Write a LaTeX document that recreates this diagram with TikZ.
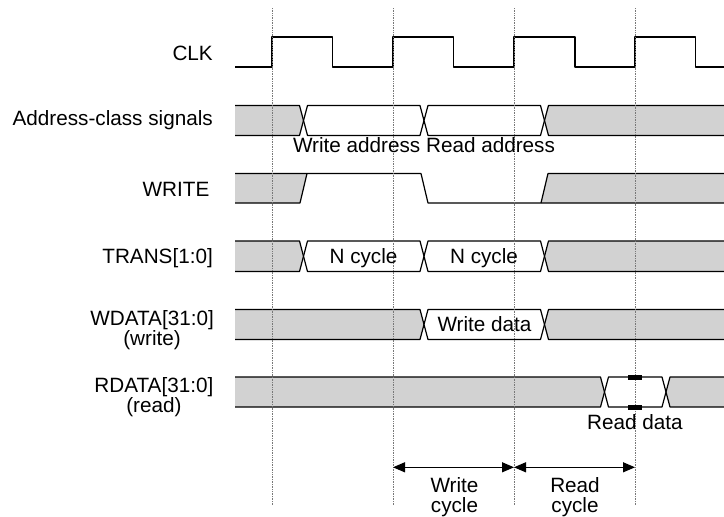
\documentclass[tikz,border=0pt]{standalone}
\usepackage{fontspec}
\setmainfont{Liberation Sans}
\usetikzlibrary{arrows.meta}
\definecolor{busgray}{RGB}{210,210,210}
\definecolor{gridgray}{RGB}{120,120,120}
\newcommand{\midseg}[5]{%
  \filldraw[wave,fill=#5] ({#1+4},#3) -- ({#2-4},#3) -- (#2,{(#3+#4)/2}) -- ({#2-4},#4) -- ({#1+4},#4) -- (#1,{(#3+#4)/2}) -- cycle;}
\newcommand{\leftseg}[3]{%
  \fill[busgray] (235,#2) -- ({#1-4},#2) -- (#1,{(#2+#3)/2}) -- ({#1-4},#3) -- (235,#3) -- cycle;
  \draw[wave] (235,#2) -- ({#1-4},#2) -- (#1,{(#2+#3)/2}) -- ({#1-4},#3) -- (235,#3);}
\newcommand{\rightseg}[3]{%
  \fill[busgray] (724,#2) -- ({#1+4},#2) -- (#1,{(#2+#3)/2}) -- ({#1+4},#3) -- (724,#3) -- cycle;
  \draw[wave] (724,#2) -- ({#1+4},#2) -- (#1,{(#2+#3)/2}) -- ({#1+4},#3) -- (724,#3);}
\begin{document}
\begin{tikzpicture}[x=1pt,y=-1pt,
  wave/.style={line width=1.2pt,line join=round,draw=black},
  grid/.style={gridgray,densely dotted,line width=0.7pt},
  lbl/.style={font=\fontsize{20.7}{20.5}\selectfont,inner sep=0pt,align=center},
  cyc/.style={line width=1.2pt,{Triangle[length=12pt,width=10pt]}-{Triangle[length=12pt,width=10pt]}}]
\useasboundingbox (0,0) rectangle (724,517);

% Address-class signals
\leftseg{303.5}{105.5}{135.5}
\midseg{303.5}{424}{105.5}{135.5}{white}
\midseg{424}{544.5}{105.5}{135.5}{white}
\rightseg{544.5}{105.5}{135.5}

% WRITE
\fill[busgray] (235,173.5) -- (307,173.5) -- (300,203) -- (235,203) -- cycle;
\fill[busgray] (541,203) -- (548,173.5) -- (724,173.5) -- (724,203) -- cycle;
\draw[wave] (235,203) -- (300,203) -- (307,173.5);
\draw[wave] (235,173.5) -- (421,173.5) -- (428,203) -- (724,203);
\draw[wave] (541,203) -- (548,173.5) -- (724,173.5);

% TRANS
\leftseg{303.5}{241}{271.5}
\midseg{303.5}{424}{241}{271.5}{white}
\midseg{424}{544.5}{241}{271.5}{white}
\rightseg{544.5}{241}{271.5}

% WDATA
\leftseg{424}{309.5}{339.5}
\midseg{424}{544.5}{309.5}{339.5}{white}
\rightseg{544.5}{309.5}{339.5}

% RDATA
\leftseg{604.5}{377}{407}
\midseg{604.5}{666}{377}{407}{white}
\rightseg{666}{377}{407}

% CLK
\draw[wave] (235,67) -- (272,67) -- (272,37) -- (332.5,37) -- (332.5,67) -- (393,67)
  -- (393,37) -- (453.5,37) -- (453.5,67) -- (514,67) -- (514,37) -- (575,37)
  -- (575,67) -- (635,67) -- (635,37) -- (695.5,37) -- (695.5,67) -- (724,67);

% dotted grid
\foreach \gx in {272,393,514,635} \draw[grid] (\gx,8) -- (\gx,505);

% hold bars
\fill[black] (628,374.5) rectangle (642,379.5);
\fill[black] (628,404.5) rectangle (642,409.5);

% signal names
\node[lbl,anchor=base east] (lclk) at (213,60.5) {CLK};
\node[lbl,anchor=base east] (laddr) at (213,125) {Address-class signals};
\node[lbl,anchor=base east] (lwrite) at (209.5,196.5) {WRITE};
\node[lbl,anchor=base east] (ltrans) at (213,263) {TRANS[1:0]};
\node[lbl,anchor=base east] (lwdata) at (214,345.5) {WDATA[31:0]\\(write)};
\node[lbl,anchor=base east] (lrdata) at (213.5,412.7) {RDATA[31:0]\\(read)};

% bus labels
\node[lbl,anchor=base] (taddr) at (424,152.3) {Write address Read address};
\node[lbl,anchor=base] (tn1) at (363.5,263) {N cycle};
\node[lbl,anchor=base] (tn2) at (484,263) {N cycle};
\node[lbl,anchor=base] (twd) at (484.5,331) {Write data};
\node[lbl,anchor=base] (trd) at (635,429.3) {Read data};

% cycle arrows
\coordinate (c1) at (393,467.3);
\coordinate (c2) at (514,467.3);
\coordinate (c3) at (635,467.3);
\draw[cyc] (c1) -- (c2);
\draw[cyc] (c2) -- (c3);
\node[lbl,anchor=base] (twc) at (454.5,512.7) {Write\\cycle};
\node[lbl,anchor=base] (trc) at (575,512.7) {Read\\cycle};
\end{tikzpicture}
\end{document}
